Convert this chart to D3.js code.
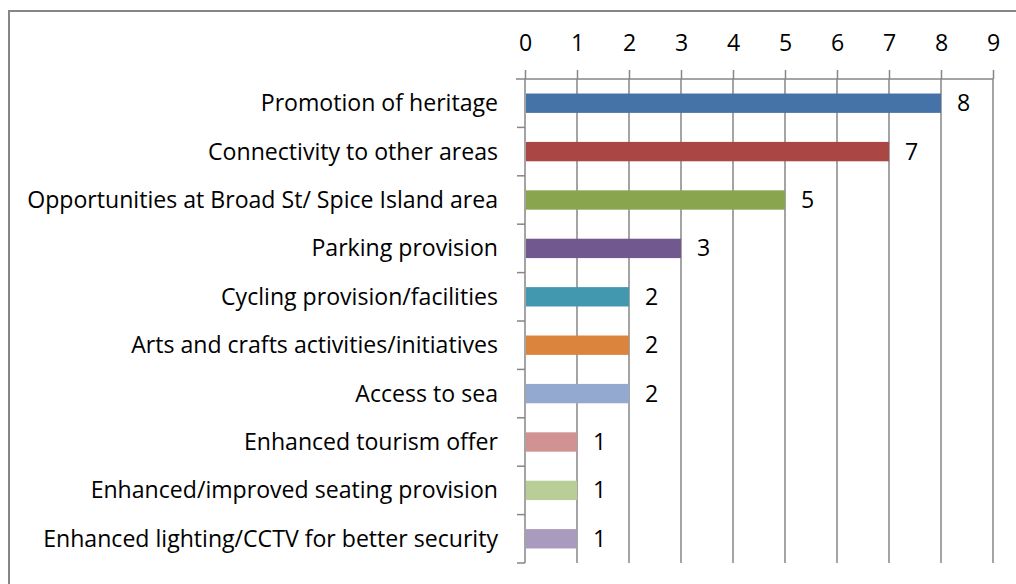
<!DOCTYPE html>
<html>
<head>
<meta charset="utf-8">
<script src="https://cdn.jsdelivr.net/npm/d3@7"></script>
<style>
  body { margin: 0; background: #fff; }
  svg { font-family: 'Open Sans', sans-serif; }
</style>
</head>
<body>
<div id="chart"></div>
<script>
const categories = [
  'Promotion of heritage',
  'Connectivity to other areas',
  'Opportunities at Broad St/ Spice Island area',
  'Parking provision',
  'Cycling provision/facilities',
  'Arts and crafts activities/initiatives',
  'Access to sea',
  'Enhanced tourism offer',
  'Enhanced/improved seating provision',
  'Enhanced lighting/CCTV for better security'
]
const values = [8, 7, 5, 3, 2, 2, 2, 1, 1, 1]
const colors = ['#4572A7', '#AA4643', '#89A54E', '#71588F', '#4198AF',
                '#DB843D', '#93A9CF', '#D19392', '#B9CD96', '#A99BBD']
const tickValues = [0, 1, 2, 3, 4, 5, 6, 7, 8, 9]

const W = 1016, H = 584
const PLOT = { LEFT: 525, RIGHT: 993, TOP: 79, BOTTOM: 563 }
const FONT = 23.1

const svg = d3.select('#chart').append('svg')
    .attr('width', W)
    .attr('height', H)

// chart border
svg.append('rect')
    .attr('x', 9).attr('y', 11)
    .attr('width', W + 20).attr('height', H + 20)
    .attr('fill', 'none')
    .attr('stroke', '#868686')
    .attr('stroke-width', 2)

const x = d3.scaleLinear()
    .domain([0, 9])
    .range([PLOT.LEFT, PLOT.RIGHT])

const y = d3.scaleBand()
    .domain(categories)
    .range([PLOT.TOP, PLOT.BOTTOM])
    .paddingInner(0.6)
    .paddingOuter(0.3)

const yEdges = d3.scaleLinear()
    .domain([0, categories.length])
    .range([PLOT.TOP, PLOT.BOTTOM])

// vertical gridlines
svg.append('g')
    .selectAll('line')
    .data(tickValues.slice(1))
    .join('line')
    .attr('x1', d => x(d)).attr('x2', d => x(d))
    .attr('y1', PLOT.TOP).attr('y2', PLOT.BOTTOM)
    .attr('stroke', '#868686')
    .attr('stroke-width', 1.5)

// top axis
const xAxis = svg.append('g')
    .attr('transform', `translate(0, ${PLOT.TOP})`)
    .call(d3.axisTop(x).tickValues(tickValues).tickSize(9).tickPadding(19).tickSizeOuter(0))
xAxis.select('.domain').attr('stroke', '#868686').attr('stroke-width', 1.5)
    .attr('d', `M${PLOT.LEFT - 9},0H${PLOT.RIGHT}`)
xAxis.selectAll('.tick line').attr('stroke', '#868686').attr('stroke-width', 1.5)
xAxis.selectAll('.tick text').attr('font-size', FONT).attr('fill', '#000')
    .attr('font-family', "'Open Sans', sans-serif")

// left axis line and category ticks
svg.append('line')
    .attr('x1', PLOT.LEFT).attr('x2', PLOT.LEFT)
    .attr('y1', PLOT.TOP).attr('y2', PLOT.BOTTOM)
    .attr('stroke', '#868686').attr('stroke-width', 1.5)
svg.append('g')
    .selectAll('line')
    .data(d3.range(1, categories.length + 1))
    .join('line')
    .attr('x1', PLOT.LEFT - 8).attr('x2', PLOT.LEFT)
    .attr('y1', d => yEdges(d)).attr('y2', d => yEdges(d))
    .attr('stroke', '#868686').attr('stroke-width', 1.5)

// category labels
svg.append('g')
    .selectAll('text')
    .data(categories)
    .join('text')
    .attr('x', 498)
    .attr('y', d => y(d) + y.bandwidth() / 2)
    .attr('dy', '0.35em')
    .attr('text-anchor', 'end')
    .attr('font-size', FONT)
    .text(d => d)

// bars
svg.append('g')
    .selectAll('rect')
    .data(values)
    .join('rect')
    .attr('x', x(0) + 1)
    .attr('y', (d, i) => y(categories[i]))
    .attr('width', d => x(d) - x(0) - 1)
    .attr('height', y.bandwidth())
    .attr('fill', (d, i) => colors[i])

// value labels
svg.append('g')
    .selectAll('text')
    .data(values)
    .join('text')
    .attr('x', d => x(d) + 16)
    .attr('y', (d, i) => y(categories[i]) + y.bandwidth() / 2)
    .attr('dy', '0.35em')
    .attr('font-size', FONT)
    .text(d => d)
</script>
</body>
</html>
